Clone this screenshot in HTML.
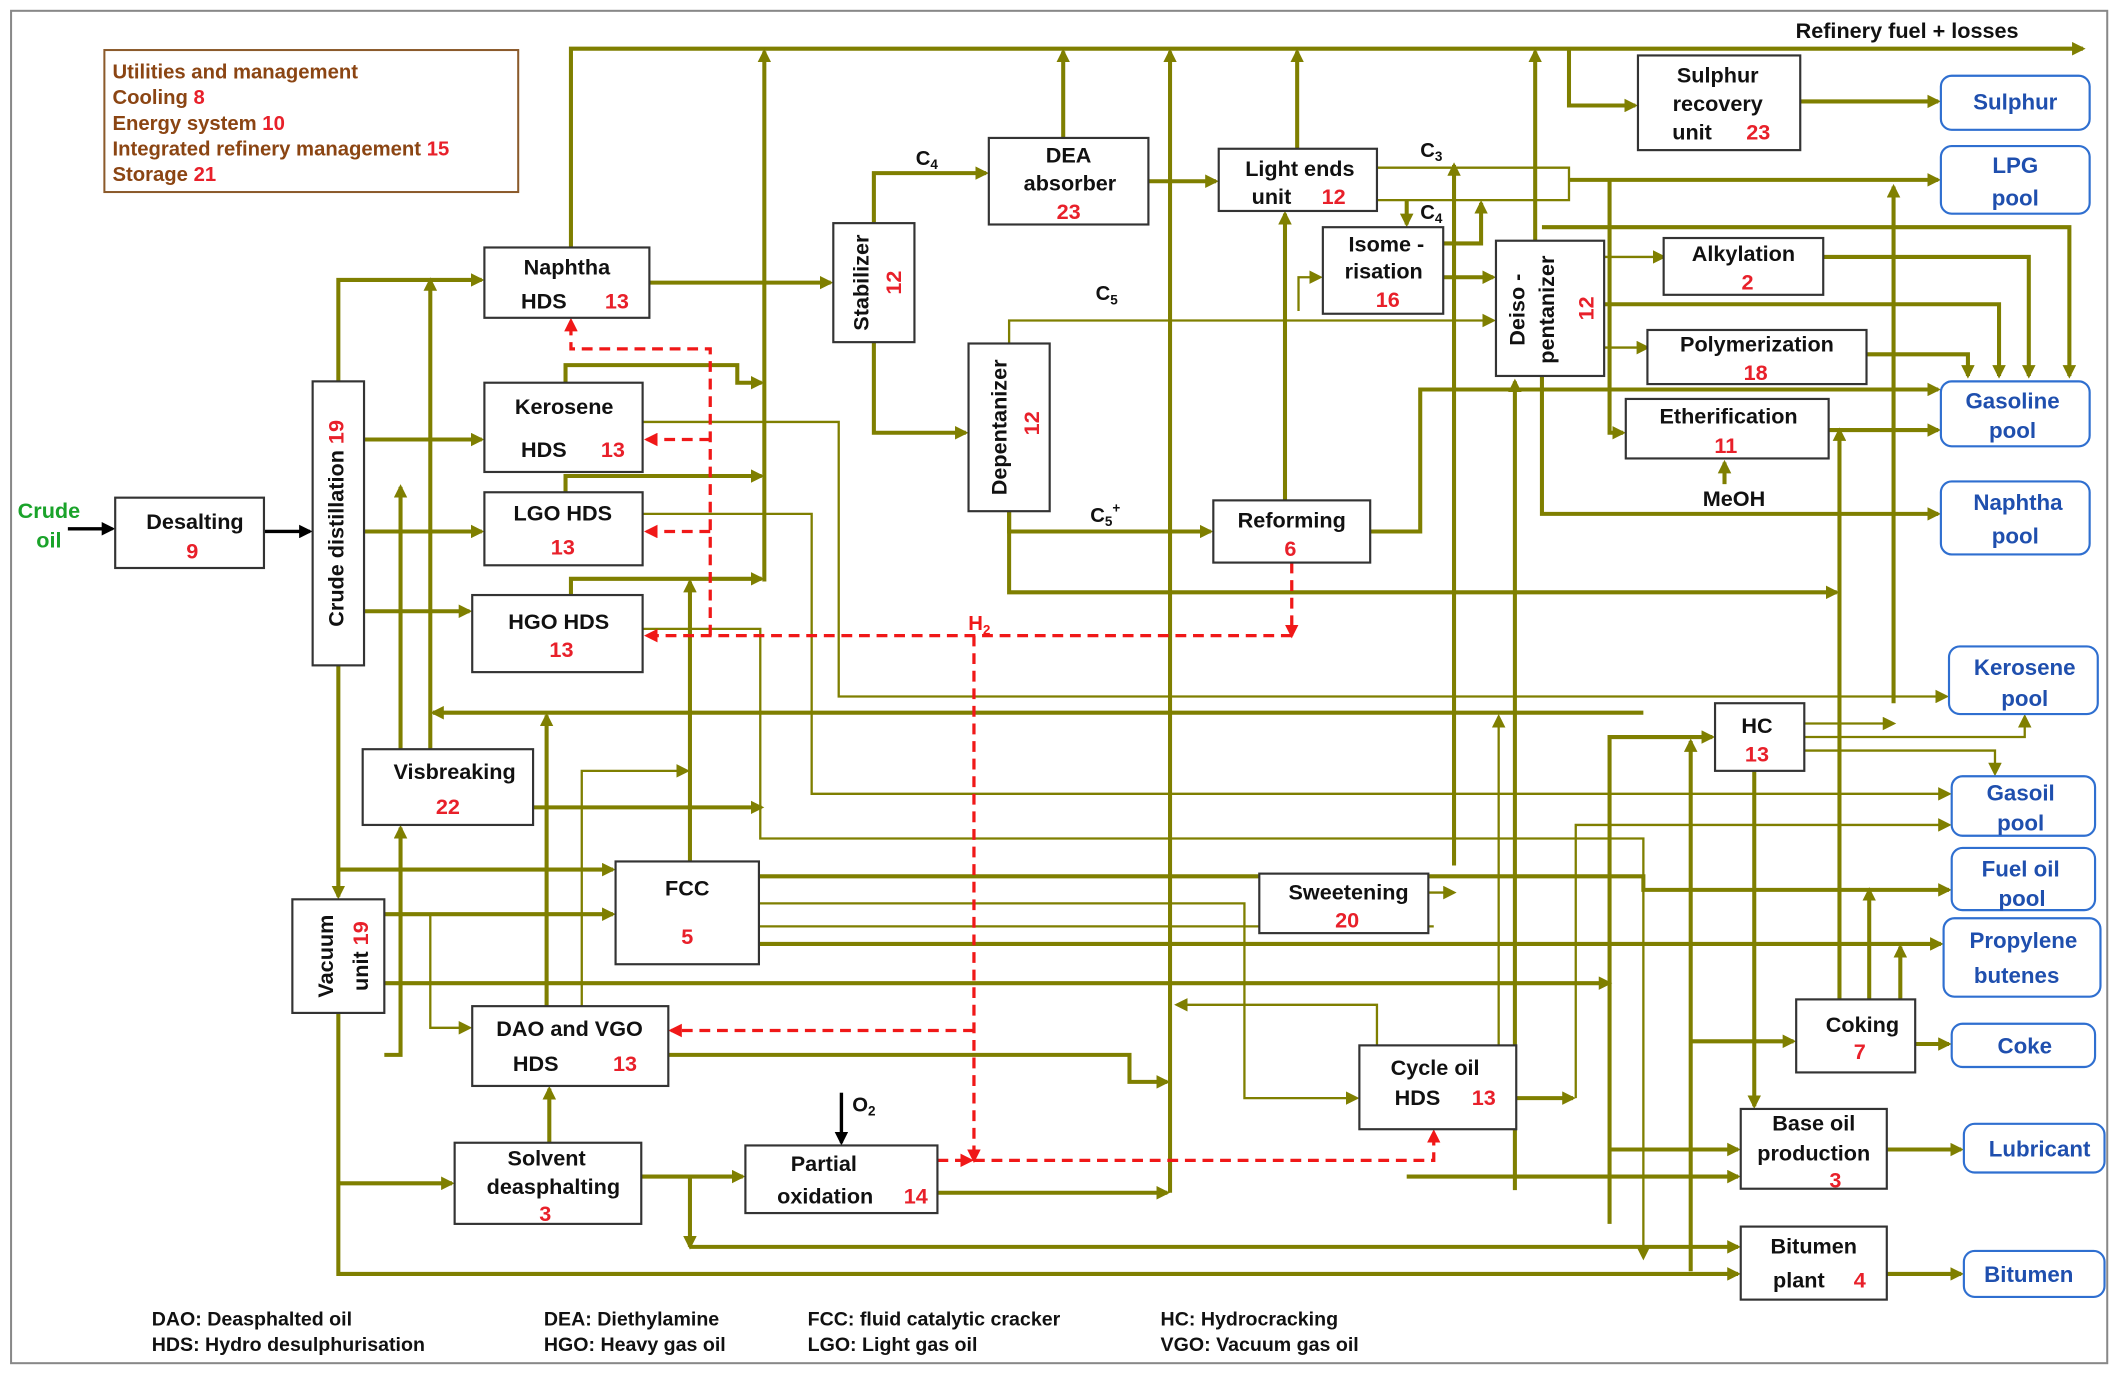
<!DOCTYPE html>
<html><head><meta charset="utf-8"><style>
html,body{margin:0;padding:0;background:#fff;}
svg{display:block;}
text{font-family:"Liberation Sans",sans-serif;font-weight:bold;}
.b{fill:#fff;stroke:#333;stroke-width:1.6;}
.p{fill:#fff;stroke:#2f6fd0;stroke-width:1.6;}
.t{font-size:16px;fill:#111;text-anchor:middle;}
.n{font-size:16px;fill:#e8202a;text-anchor:middle;}
.pt{font-size:16.5px;fill:#1f4fae;text-anchor:middle;}
.L{fill:none;stroke:#7f7f00;stroke-width:3;}
.l{fill:none;stroke:#7f7f00;stroke-width:1.7;}
.R{fill:none;stroke:#f01818;stroke-width:2.4;stroke-dasharray:8 5;}
.f{font-size:14.5px;fill:#111;}
.g{font-size:15px;fill:#8b4513;}
</style></head><body>
<svg width="2121" height="1374" viewBox="0 0 1568 1016" xmlns="http://www.w3.org/2000/svg">
<defs>
<marker id="a" markerWidth="10" markerHeight="10" refX="8" refY="5" orient="auto" markerUnits="userSpaceOnUse"><path d="M0,0L10,5L0,10z" fill="#7f7f00"/></marker>
<marker id="r" markerWidth="10" markerHeight="10" refX="8" refY="5" orient="auto" markerUnits="userSpaceOnUse"><path d="M0,0L10,5L0,10z" fill="#f01818"/></marker>
<marker id="k" markerWidth="10" markerHeight="10" refX="8" refY="5" orient="auto" markerUnits="userSpaceOnUse"><path d="M0,0L10,5L0,10z" fill="#000"/></marker>
</defs>
<rect x="8" y="8" width="1550" height="1000" fill="#fff" stroke="#888" stroke-width="1.5"/>

<path class="l" d="M1018,124H1160V148H1018"/>
<path class="l" d="M561,685H1060"/>
<g marker-end="url(#a)">
<path class="L" d="M422,183V36H1540"/>
<path class="L" d="M565,430V38"/>
<path class="L" d="M786,102V38"/>
<path class="L" d="M959,110V38"/>
<path class="L" d="M865,882V38"/>
<path class="L" d="M1135,178V38"/>
<path class="L" d="M480,209H614"/>
<path class="L" d="M250,282V207H356"/>
<path class="L" d="M269,325H356"/>
<path class="L" d="M269,393H356"/>
<path class="L" d="M269,452H347"/>
<path class="L" d="M250,492V663"/>
<path class="L" d="M318,555V207"/>
<path class="L" d="M296,555V360"/>
<path class="L" d="M1215,527H320"/>
<path class="L" d="M394,597H563"/>
<path class="L" d="M284,780H296V612"/>
<path class="L" d="M404,744V529"/>
<path class="l" d="M430,744V570H508"/>
<path class="L" d="M510,637V430"/>
<path class="L" d="M418,283V270H545V283H563"/>
<path class="L" d="M418,364V352H563"/>
<path class="L" d="M422,440V428H563"/>
<path class="l" d="M475,312H620V515H1439"/>
<path class="l" d="M475,380H600V587H1441"/>
<path class="l" d="M475,465H562V620H1215V930"/>
<path class="L" d="M250,643H453"/>
<path class="L" d="M284,676H453"/>
<path class="l" d="M318,676V760H347"/>
<path class="L" d="M284,727H1190"/>
<path class="L" d="M561,648H1215V658H1441"/>
<path class="l" d="M561,668H920V812H1003"/>
<path class="L" d="M561,698H1435"/>
<path class="L" d="M494,780H835V800H863"/>
<path class="L" d="M250,665V942H1285"/>
<path class="L" d="M250,875H334"/>
<path class="L" d="M406,845V805"/>
<path class="L" d="M474,870H549"/>
<path class="L" d="M510,870V922"/>
<path class="L" d="M510,922H1285"/>
<path class="L" d="M693,882H863"/>
<path class="L" d="M646,165V128H729"/>
<path class="L" d="M646,253V320H714"/>
<path class="L" d="M849,134H899"/>
<path class="l" d="M746,254V237H1104"/>
<path class="L" d="M746,378V393H895"/>
<path class="L" d="M746,378V438H1358"/>
<path class="L" d="M950,370V158"/>
<path class="L" d="M1013,393H1050V288H1433"/>
<path class="L" d="M1160,133H1433"/>
<path class="L" d="M1040,148V166"/>
<path class="L" d="M1075,640V122"/>
<path class="L" d="M1067,205H1104"/>
<path class="L" d="M1067,180H1095V150"/>
<path class="l" d="M960,230V205H976"/>
<path class="l" d="M1186,190H1230"/>
<path class="L" d="M1140,168H1530V278"/>
<path class="L" d="M1348,190H1500V278"/>
<path class="l" d="M1186,257H1218"/>
<path class="L" d="M1186,225H1478V278"/>
<path class="L" d="M1380,262H1455V278"/>
<path class="L" d="M1352,318H1433"/>
<path class="L" d="M1190,133V320H1200"/>
<path class="L" d="M1140,278V380H1433"/>
<path class="L" d="M1120,880V282"/>
<path class="L" d="M1400,520V138"/>
<path class="L" d="M1360,739V318"/>
<path class="L" d="M1190,905V545H1266"/>
<path class="L" d="M1250,940V548"/>
<path class="l" d="M1334,545H1497V530"/>
<path class="l" d="M1334,555H1475V572"/>
<path class="l" d="M1334,535H1400"/>
<path class="L" d="M1297,570V818"/>
<path class="L" d="M1250,770H1326"/>
<path class="L" d="M1416,772H1441"/>
<path class="L" d="M1382,739V658"/>
<path class="L" d="M1405,739V700"/>
<path class="L" d="M1395,850H1450"/>
<path class="L" d="M1395,942H1450"/>
<path class="l" d="M1056,660H1075"/>
<path class="L" d="M1121,812H1163"/>
<path class="l" d="M1165,812V610H1441"/>
<path class="l" d="M1018,773V743H870"/>
<path class="l" d="M1108,773V530"/>
<path class="L" d="M1160,36V78H1209"/>
<path class="L" d="M1331,75H1433"/>
<path class="L" d="M1190,850H1285"/>
<path class="L" d="M1040,870H1285"/>
</g>

<g marker-end="url(#r)">
<path class="R" d="M955,416V470"/>
<path class="R" d="M955,470H478"/>
<path class="R" d="M525,470V258H422V237"/>
<path class="R" d="M525,325H478"/>
<path class="R" d="M525,393H478"/>
<path class="R" d="M720,470V858"/>
<path class="R" d="M720,762H496"/>
<path class="R" d="M693,858H718"/>
<path class="R" d="M720,858H1060V837"/>
</g>
<text x="724" y="466" style="font-size:15px;fill:#f01818;text-anchor:middle">H<tspan dy="3" style="font-size:10px">2</tspan></text>

<path d="M50,391H83" stroke="#000" stroke-width="2.5" marker-end="url(#k)"/>
<path d="M195,393H229" stroke="#000" stroke-width="2.5" marker-end="url(#k)"/>
<path d="M622,808V845" stroke="#000" stroke-width="2.5" marker-end="url(#k)"/>
<text x="630" y="822" class="f" style="font-size:15px">O<tspan dy="3" style="font-size:10px">2</tspan></text>
<text x="36" y="383" style="font-size:16px;fill:#1aa32a;text-anchor:middle">Crude</text>
<text x="36" y="405" style="font-size:16px;fill:#1aa32a;text-anchor:middle">oil</text>

<rect x="77" y="37" width="306" height="105" fill="#fff" stroke="#8b5a2b" stroke-width="1.5"/>
<text x="83" y="58" class="g">Utilities and management</text>
<text x="83" y="77" class="g">Cooling <tspan fill="#e8202a">8</tspan></text>
<text x="83" y="96" class="g">Energy system <tspan fill="#e8202a">10</tspan></text>
<text x="83" y="115" class="g">Integrated refinery management <tspan fill="#e8202a">15</tspan></text>
<text x="83" y="134" class="g">Storage <tspan fill="#e8202a">21</tspan></text>
<text x="1410" y="28" class="t">Refinery fuel + losses</text>

<rect class="b" x="85" y="368" width="110" height="52"/><text class="t" x="144" y="391">Desalting</text><text class="n" x="142" y="413">9</text>
<rect class="b" x="231" y="282" width="38" height="210"/><text class="t" transform="translate(254,387) rotate(-90)">Crude distillation <tspan fill="#e8202a">19</tspan></text>
<rect class="b" x="358" y="183" width="122" height="52"/><text class="t" x="419" y="203">Naphtha</text><text class="t" x="402" y="228">HDS</text><text class="n" x="456" y="228">13</text>
<rect class="b" x="358" y="283" width="117" height="66"/><text class="t" x="417" y="306">Kerosene</text><text class="t" x="402" y="338">HDS</text><text class="n" x="453" y="338">13</text>
<rect class="b" x="358" y="364" width="117" height="54"/><text class="t" x="416" y="385">LGO HDS</text><text class="n" x="416" y="410">13</text>
<rect class="b" x="349" y="440" width="126" height="57"/><text class="t" x="413" y="465">HGO HDS</text><text class="n" x="415" y="486">13</text>
<rect class="b" x="268" y="554" width="126" height="56"/><text class="t" x="336" y="576">Visbreaking</text><text class="n" x="331" y="602">22</text>
<rect class="b" x="455" y="637" width="106" height="76"/><text class="t" x="508" y="662">FCC</text><text class="n" x="508" y="698">5</text>
<rect class="b" x="216" y="665" width="68" height="84"/><text class="t" transform="translate(246,707) rotate(-90)">Vacuum</text><text class="t" transform="translate(272,707) rotate(-90)">unit <tspan fill="#e8202a">19</tspan></text>
<rect class="b" x="349" y="744" width="145" height="59"/><text class="t" x="421" y="766">DAO and VGO</text><text class="t" x="396" y="792">HDS</text><text class="n" x="462" y="792">13</text>
<rect class="b" x="336" y="845" width="138" height="60"/><text class="t" x="404" y="862">Solvent</text><text class="t" x="409" y="883">deasphalting</text><text class="n" x="403" y="903">3</text>
<rect class="b" x="551" y="847" width="142" height="50"/><text class="t" x="609" y="866">Partial</text><text class="t" x="610" y="890">oxidation</text><text class="n" x="677" y="890">14</text>
<rect class="b" x="616" y="165" width="60" height="88"/><text class="t" transform="translate(642,209) rotate(-90)">Stabilizer</text><text class="n" transform="translate(666,209) rotate(-90)">12</text>
<rect class="b" x="731" y="102" width="118" height="64"/><text class="t" x="790" y="120">DEA</text><text class="t" x="791" y="141">absorber</text><text class="n" x="790" y="162">23</text>
<rect class="b" x="716" y="254" width="60" height="124"/><text class="t" transform="translate(744,316) rotate(-90)">Depentanizer</text><text class="n" transform="translate(768,313) rotate(-90)">12</text>
<rect class="b" x="901" y="110" width="117" height="46"/><text class="t" x="961" y="130">Light ends</text><text class="t" x="940" y="151">unit</text><text class="n" x="986" y="151">12</text>
<rect class="b" x="978" y="168" width="89" height="64"/><text class="t" x="1025" y="186">Isome  -</text><text class="t" x="1023" y="206">risation</text><text class="n" x="1026" y="227">16</text>
<rect class="b" x="1106" y="178" width="80" height="100"/><text class="t" transform="translate(1127,229) rotate(-90)">Deiso -</text><text class="t" transform="translate(1149,229) rotate(-90)">pentanizer</text><text class="n" transform="translate(1178,228) rotate(-90)">12</text>
<rect class="b" x="897" y="370" width="116" height="46"/><text class="t" x="955" y="390">Reforming</text><text class="n" x="954" y="411">6</text>
<rect class="b" x="1211" y="41" width="120" height="70"/><text class="t" x="1270" y="61">Sulphur</text><text class="t" x="1270" y="82">recovery</text><text class="t" x="1251" y="103">unit</text><text class="n" x="1300" y="103">23</text>
<rect class="b" x="1230" y="176" width="118" height="42"/><text class="t" x="1289" y="193">Alkylation</text><text class="n" x="1292" y="214">2</text>
<rect class="b" x="1218" y="244" width="162" height="40"/><text class="t" x="1299" y="260">Polymerization</text><text class="n" x="1298" y="281">18</text>
<rect class="b" x="1202" y="295" width="150" height="44"/><text class="t" x="1278" y="313">Etherification</text><text class="n" x="1276" y="335">11</text>
<text class="t" x="1282" y="374">MeOH</text>
<path class="L" d="M1275,358V342" marker-end="url(#a)"/>
<rect class="b" x="931" y="646" width="125" height="44"/><text class="t" x="997" y="665">Sweetening</text><text class="n" x="996" y="686">20</text>
<rect class="b" x="1005" y="773" width="116" height="62"/><text class="t" x="1061" y="795">Cycle oil</text><text class="t" x="1048" y="817">HDS</text><text class="n" x="1097" y="817">13</text>
<rect class="b" x="1268" y="520" width="66" height="50"/><text class="t" x="1299" y="542">HC</text><text class="n" x="1299" y="563">13</text>
<rect class="b" x="1328" y="739" width="88" height="54"/><text class="t" x="1377" y="763">Coking</text><text class="n" x="1375" y="783">7</text>
<rect class="b" x="1287" y="820" width="108" height="59"/><text class="t" x="1341" y="836">Base oil</text><text class="t" x="1341" y="858">production</text><text class="n" x="1357" y="878">3</text>
<rect class="b" x="1287" y="907" width="108" height="54"/><text class="t" x="1341" y="927">Bitumen</text><text class="t" x="1330" y="952">plant</text><text class="n" x="1375" y="952">4</text>

<text class="f" x="677" y="122" style="font-size:15px">C<tspan dy="3" style="font-size:10px">4</tspan></text>
<text class="f" x="810" y="222" style="font-size:15px">C<tspan dy="3" style="font-size:10px">5</tspan></text>
<text class="f" x="806" y="386" style="font-size:15px">C<tspan dy="3" style="font-size:10px">5</tspan><tspan dy="-10" style="font-size:10px">+</tspan></text>
<text class="f" x="1050" y="116" style="font-size:15px">C<tspan dy="3" style="font-size:10px">3</tspan></text>
<text class="f" x="1050" y="162" style="font-size:15px">C<tspan dy="3" style="font-size:10px">4</tspan></text>

<rect class="p" x="1435" y="56" width="110" height="40" rx="8"/><text class="pt" x="1490" y="81">Sulphur</text>
<rect class="p" x="1435" y="108" width="110" height="50" rx="8"/><text class="pt" x="1490" y="128">LPG</text><text class="pt" x="1490" y="152">pool</text>
<rect class="p" x="1435" y="282" width="110" height="48" rx="8"/><text class="pt" x="1488" y="302">Gasoline</text><text class="pt" x="1488" y="324">pool</text>
<rect class="p" x="1435" y="356" width="110" height="54" rx="8"/><text class="pt" x="1492" y="377">Naphtha</text><text class="pt" x="1490" y="402">pool</text>
<rect class="p" x="1441" y="478" width="110" height="50" rx="8"/><text class="pt" x="1497" y="499">Kerosene</text><text class="pt" x="1497" y="522">pool</text>
<rect class="p" x="1443" y="574" width="106" height="44" rx="8"/><text class="pt" x="1494" y="592">Gasoil</text><text class="pt" x="1494" y="614">pool</text>
<rect class="p" x="1443" y="627" width="106" height="46" rx="8"/><text class="pt" x="1494" y="648">Fuel oil</text><text class="pt" x="1495" y="670">pool</text>
<rect class="p" x="1437" y="679" width="116" height="58" rx="8"/><text class="pt" x="1496" y="701">Propylene</text><text class="pt" x="1491" y="727">butenes</text>
<rect class="p" x="1443" y="757" width="106" height="32" rx="8"/><text class="pt" x="1497" y="779">Coke</text>
<rect class="p" x="1452" y="831" width="104" height="36" rx="8"/><text class="pt" x="1508" y="855">Lubricant</text>
<rect class="p" x="1452" y="925" width="104" height="34" rx="8"/><text class="pt" x="1500" y="948">Bitumen</text>

<text class="f" x="112" y="980">DAO:  Deasphalted   oil</text>
<text class="f" x="112" y="999">HDS: Hydro   desulphurisation</text>
<text class="f" x="402" y="980">DEA:  Diethylamine</text>
<text class="f" x="402" y="999">HGO: Heavy gas oil</text>
<text class="f" x="597" y="980">FCC: fluid catalytic cracker</text>
<text class="f" x="597" y="999">LGO: Light gas oil</text>
<text class="f" x="858" y="980">HC:  Hydrocracking</text>
<text class="f" x="858" y="999">VGO: Vacuum gas oil</text>
</svg>
</body></html>
